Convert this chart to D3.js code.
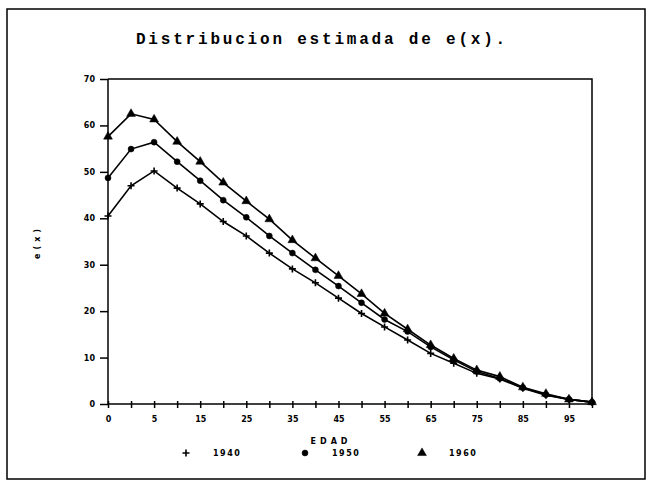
<!DOCTYPE html>
<meta charset="utf-8">
<style>
body { margin: 0; background: #fff; }
.tick text { font-family: "DejaVu Sans", sans-serif; font-weight: bold; font-size: 8px; fill: #000; }
.axis path, .axis line { stroke: #000; stroke-width: 1.5; }
</style>
<body>
<svg width="652" height="483"></svg>
<script src="https://d3js.org/d3.v7.min.js"></script>
<script>

// ages (x categories), evenly spaced on the original chart
var ages = [0, 1, 5, 10, 15, 20, 25, 30, 35, 40, 45, 50, 55, 60, 65, 70, 75, 80, 85, 90, 95, 100];
var xLabels = [0, 5, 15, 25, 35, 45, 55, 65, 75, 85, 95];
var yTicks = [0, 10, 20, 30, 40, 50, 60, 70];

// e(x)
var e1940 = [40.5, 47.0, 50.2, 46.5, 43.1, 39.3, 36.2, 32.5, 29.1, 26.1, 22.8, 19.5, 16.6, 13.8, 10.9, 8.8, 6.6, 5.4, 3.4, 1.9, 1.0, 0.4];
var e1950 = [48.7, 54.9, 56.4, 52.2, 48.1, 43.9, 40.2, 36.2, 32.5, 28.9, 25.4, 21.8, 18.2, 15.6, 12.3, 9.5, 7.0, 5.5, 3.5, 2.0, 1.0, 0.4];
var e1960 = [57.6, 62.5, 61.3, 56.5, 52.2, 47.7, 43.7, 39.8, 35.3, 31.4, 27.6, 23.7, 19.5, 16.1, 12.7, 9.8, 7.3, 5.9, 3.6, 2.2, 1.0, 0.4];
var years = ["1940", "1950", "1960"];

var svg = d3.select("svg");

var pLeft = 108, pRight = 592, pTop = 79, pBottom = 404;

var x = d3.scalePoint()
	.domain(ages)
	.range([pLeft, pRight]);

var y = d3.scaleLinear()
	.domain([0, 70])
	.range([pBottom, pTop]);

// outer frame of the page
svg.append("rect")
	.attr("x", 7).attr("y", 9)
	.attr("width", 638).attr("height", 470)
	.attr("fill", "none")
	.attr("stroke", "#000")
	.attr("stroke-width", 1.5);

svg.append("text")
	.attr("x", 322)
	.attr("y", 44)
	.attr("text-anchor", "middle")
	.style("font-family", "'Liberation Mono', monospace")
	.style("font-weight", "bold")
	.style("font-size", "16px")
	.style("letter-spacing", "2.8px")
	.text("Distribucion estimada de e(x).");

// plot box (top and right)
svg.append("path")
	.attr("d", "M" + pLeft + "," + pTop + "H" + pRight + "V" + pBottom)
	.attr("fill", "none")
	.attr("stroke", "#000")
	.attr("stroke-width", 1.5);

var yAxis = d3.axisLeft(y)
	.tickValues(yTicks)
	.tickSize(8)
	.tickPadding(5);

svg.append("g")
	.attr("class", "axis")
	.attr("transform", "translate(" + pLeft + ",0)")
	.call(yAxis)
	.call(function(g){ g.select(".domain").attr("d", "M0," + pTop + "V" + pBottom); });

var xAxis = d3.axisBottom(x)
	.tickSize(4)
	.tickPadding(8)
	.tickFormat(function(d){ return xLabels.indexOf(d) >= 0 ? d : ""; });

svg.append("g")
	.attr("class", "axis")
	.attr("transform", "translate(0," + pBottom + ")")
	.call(xAxis)
	.call(function(g){
		g.select(".domain").attr("d", "M" + pLeft + ",0H" + pRight);
		g.selectAll(".tick line").attr("y1", -3);
	});

// axis titles
svg.append("text")
	.attr("transform", "translate(40,242) rotate(-90)")
	.attr("text-anchor", "middle")
	.style("font-family", "'DejaVu Sans', sans-serif")
	.style("font-weight", "bold")
	.style("font-size", "8px")
	.style("letter-spacing", "4px")
	.text("e(x)");

svg.append("text")
	.attr("x", 331)
	.attr("y", 444)
	.attr("text-anchor", "middle")
	.style("font-family", "'DejaVu Sans', sans-serif")
	.style("font-weight", "bold")
	.style("font-size", "8px")
	.style("letter-spacing", "4px")
	.text("EDAD");

var line = d3.line()
	.x(function(d, i){ return x(ages[i]); })
	.y(function(d){ return y(d); });

var series = [e1940, e1950, e1960];
var shapes = [d3.symbolCross, d3.symbolCircle, d3.symbolTriangle];

function marker(k){
	return k == 0
		? "M-3.5,0H3.5M0,-3.5V3.5"
		: d3.symbol().type(shapes[k]).size(k == 1 ? 28 : 34)();
}

series.forEach(function(s, k){
	svg.append("path")
		.attr("d", line(s))
		.attr("fill", "none")
		.attr("stroke", "#000")
		.attr("stroke-width", 1.6);

	svg.selectAll(".m" + k)
		.data(s)
		.enter().append("path")
		.attr("class", "m" + k)
		.attr("transform", function(d, i){ return "translate(" + x(ages[i]) + "," + y(d) + ")"; })
		.attr("d", marker(k))
		.attr("fill", "#000")
		.attr("stroke", "#000")
		.attr("stroke-width", k == 0 ? 1.6 : 0.5);
});

// legend
var legX = [186, 305, 422];
legX.forEach(function(lx, k){
	svg.append("path")
		.attr("transform", "translate(" + lx + ",453)")
		.attr("d", marker(k))
		.attr("fill", "#000")
		.attr("stroke", "#000")
		.attr("stroke-width", k == 0 ? 1.6 : 0.5);
	svg.append("text")
		.attr("x", lx + 27)
		.attr("y", 456)
		.style("font-family", "'DejaVu Sans', sans-serif")
		.style("font-weight", "bold")
		.style("font-size", "8px")
		.style("letter-spacing", "1.5px")
		.text(years[k]);
});

</script>
</body>
</html>
